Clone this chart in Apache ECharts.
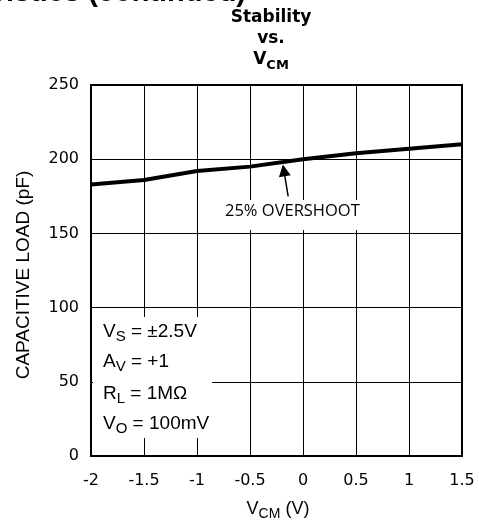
<!DOCTYPE html>
<html><head><meta charset="utf-8">
<script src="https://cdn.jsdelivr.net/npm/echarts@6/dist/echarts.min.js"></script>
<style>html,body{margin:0;padding:0;background:#fff}#c{width:479px;height:525px}</style>
</head><body><div id="c"></div>
<script>
// Data
const vcm = [-2, -1.5, -1, -0.5, 0, 0.5, 1, 1.5];
const capLoad = [183, 186, 192, 195, 200, 204, 207, 210];
const xMin = -2, xMax = 1.5, xStep = 0.5;
const yMin = 0, yMax = 250, yStep = 50;
const conditions = [
  ['V', 'S', ' = \u00B12.5V'],
  ['A', 'V', ' = +1'],
  ['R', 'L', ' = 1M\u03A9'],
  ['V', 'O', ' = 100mV']
];
const annotationText = '25% OVERSHOOT';

const chart = echarts.init(document.getElementById('c'), null, {renderer: 'canvas'});
const SANS = '"Liberation Sans", Arial, sans-serif';
const DJ = '"DejaVu Sans", sans-serif';

function subText(main, sub, rest, size, subSize, family, weight, shift) {
  return {
    text: '{m|' + main + '}{s|' + sub + '}' + (rest ? '{m|' + rest + '}' : ''),
    rich: {
      m: {fontSize: size, fontFamily: family, fontWeight: weight, verticalAlign: 'bottom', padding: [0, 0, shift, 0], fill: '#000'},
      s: {fontSize: subSize, fontFamily: family, fontWeight: weight, verticalAlign: 'bottom', fill: '#000'}
    }
  };
}

const option = {
  backgroundColor: '#fff',
  animation: false,
  grid: {left: 91, top: 85, width: 371, height: 371, show: true, borderColor: '#000', borderWidth: 2, backgroundColor: 'transparent'},
  xAxis: {
    type: 'value', min: xMin, max: xMax, interval: xStep,
    axisLine: {show: false}, axisTick: {show: false},
    splitLine: {show: true, lineStyle: {color: '#000', width: 1}},
    axisLabel: {margin: 17, color: '#000', fontSize: 16, fontFamily: DJ, showMinLabel: true, showMaxLabel: true}
  },
  yAxis: {
    type: 'value', min: yMin, max: yMax, interval: yStep,
    axisLine: {show: false}, axisTick: {show: false},
    splitLine: {show: true, lineStyle: {color: '#000', width: 1}},
    axisLabel: {margin: 12, color: '#000', fontSize: 16, fontFamily: DJ}
  },
  series: [{
    type: 'line', data: vcm.map((v, i) => [v, capLoad[i]]),
    symbol: 'none', lineStyle: {color: '#000', width: 4}, z: 3
  }]
};
chart.setOption(option);

const P = (x, y) => chart.convertToPixel({xAxisIndex: 0, yAxisIndex: 0}, [x, y]);
const tip = P(-0.19, 196.5);
const tail = P(-0.14, 175);
const ang = Math.atan2(tip[1] - tail[1], tip[0] - tail[0]);
const hl = 12, hw = 6;
const bx = tip[0] - hl * Math.cos(ang), by = tip[1] - hl * Math.sin(ang);
const nx = -Math.sin(ang), ny = Math.cos(ang);
const labPos = P(-0.1, 165);

const graphics = [
  {type: 'text', z: 20, style: {text: 'Typical Characteristics (continued)', x: 246, y: -7, align: 'right', verticalAlign: 'middle', fontSize: 29, fontWeight: 'bold', fontFamily: SANS, fill: '#000'}},
  {type: 'text', z: 20, style: {text: 'Stability', x: 271, y: 18, align: 'center', verticalAlign: 'middle', fontSize: 17, fontWeight: 'bold', fontFamily: DJ, fill: '#000'}},
  {type: 'text', z: 20, style: {text: 'vs.', x: 271, y: 39, align: 'center', verticalAlign: 'middle', fontSize: 17, fontWeight: 'bold', fontFamily: DJ, fill: '#000'}},
  {type: 'text', z: 20, style: Object.assign(subText('V', 'CM', '', 17, 13, DJ, 'bold', 4), {x: 271, y: 72, align: 'center', verticalAlign: 'bottom'})},
  {type: 'rect', z: 5, shape: {x: 93, y: 317, width: 119, height: 121}, style: {fill: '#fff'}},
  {type: 'rect', z: 5, shape: {x: 222, y: 200, width: 142, height: 30}, style: {fill: '#fff'}},
  {type: 'text', z: 20, style: {text: annotationText, x: labPos[0], y: 211, align: 'center', verticalAlign: 'middle', fontSize: 16.5, fontFamily: '"Open Sans", sans-serif', fill: '#000'}},
  {type: 'line', z: 20, shape: {x1: tail[0], y1: tail[1], x2: bx, y2: by}, style: {stroke: '#000', lineWidth: 1.5}},
  {type: 'polygon', z: 20, shape: {points: [[tip[0], tip[1]], [bx + nx * hw, by + ny * hw], [bx - nx * hw, by - ny * hw]]}, style: {fill: '#000'}},
  {type: 'text', z: 20, style: Object.assign(subText('V', 'CM', ' (V)', 18, 14, SANS, 'normal', 3), {x: 278, y: 521, align: 'center', verticalAlign: 'bottom'})},
  {type: 'text', z: 20, rotation: Math.PI / 2, x: 24, y: 275, style: {text: 'CAPACITIVE LOAD (pF)', x: 0, y: 0, align: 'center', verticalAlign: 'middle', fontSize: 19, fontFamily: SANS, fill: '#000'}}
];
const baselines = [337, 367, 399, 429];
conditions.forEach((c, i) => {
  graphics.push({type: 'text', z: 20, style: Object.assign(subText(c[0], c[1], c[2], 19, 15, SANS, 'normal', 3), {x: 103, y: baselines[i] + 7, align: 'left', verticalAlign: 'bottom'})});
});
chart.setOption({graphic: graphics});
</script>
</body></html>
